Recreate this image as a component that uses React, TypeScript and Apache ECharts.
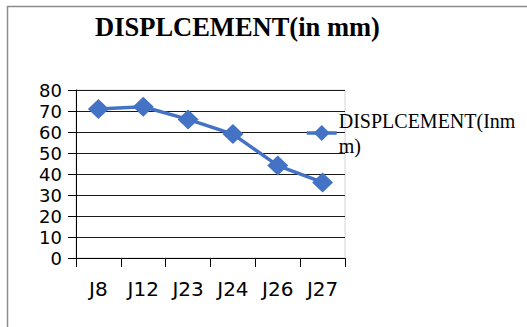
import React, { useEffect, useRef } from "react";
import * as echarts from "echarts";

const categories = ["J8", "J12", "J23", "J24", "J26", "J27"];
const displacement = [71, 72, 66, 59, 44, 36];
const seriesName = "DISPLCEMENT(Inmm)";
const titleText = "DISPLCEMENT(in mm)";

export default function App() {
  const ref = useRef<HTMLDivElement>(null);

  useEffect(() => {
    if (!ref.current) return;
    const chart = echarts.init(ref.current, null, { renderer: "svg" });
    chart.setOption({
      animation: false,
      backgroundColor: "#ffffff",
      title: {
        text: titleText,
        left: 90,
        top: 8,
        textStyle: {
          fontFamily: "Liberation Serif",
          fontWeight: "bold",
          fontSize: 26.5,
          color: "#000",
        },
      },
      graphic: [
        {
          type: "rect",
          shape: { x: 7.5, y: 6.5, width: 540, height: 340 },
          style: { fill: "none", stroke: "#8c8c8c", lineWidth: 1.5 },
          silent: true,
          z: -1,
        },
      ],
      legend: {
        left: 305,
        top: 108,
        padding: 0,
        itemWidth: 30,
        itemHeight: 20,
        itemGap: 4,
        lineStyle: { width: 3.5 },
        formatter: () => "DISPLCEMENT(Inm\nm)",
        textStyle: {
          fontFamily: "Liberation Serif",
          fontSize: 20,
          lineHeight: 25,
          color: "#000",
          padding: [0, 0, 0, -3],
        },
        data: [seriesName],
      },
      grid: {
        left: 76,
        right: 182,
        top: 90,
        bottom: 69,
        show: true,
        borderColor: "#d4d4d4",
        borderWidth: 1,
      },
      xAxis: {
        type: "category",
        data: categories,
        boundaryGap: true,
        axisLine: { lineStyle: { color: "#000", width: 1 } },
        axisTick: { show: true, length: 9, lineStyle: { color: "#000" } },
        axisLabel: {
          margin: 21,
          fontFamily: "DejaVu Sans",
          fontSize: 20,
          color: "#000",
        },
      },
      yAxis: {
        type: "value",
        min: 0,
        max: 80,
        interval: 10,
        axisLine: { show: true, lineStyle: { color: "#000", width: 1 } },
        axisTick: { show: true, length: 8, lineStyle: { color: "#000" } },
        splitLine: { show: true, lineStyle: { color: "#1a1a1a", width: 1 } },
        axisLabel: {
          margin: 14,
          fontFamily: "DejaVu Sans",
          fontSize: 18,
          lineHeight: 18,
          color: "#000",
        },
      },
      series: [
        {
          name: seriesName,
          type: "line",
          data: displacement,
          symbol: "diamond",
          symbolSize: [21, 20],
          lineStyle: { color: "#4472C4", width: 3.5 },
          itemStyle: { color: "#4472C4" },
        },
      ],
    });
    return () => chart.dispose();
  }, []);

  return (
    <div
      ref={ref}
      style={{ position: "fixed", left: 0, top: 0, width: 527, height: 327 }}
    />
  );
}
